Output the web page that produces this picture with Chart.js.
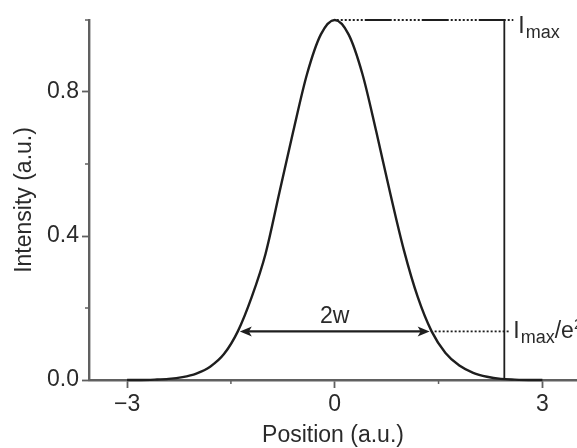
<!DOCTYPE html>
<html>
<head>
<meta charset="utf-8">
<script src="https://cdn.jsdelivr.net/npm/chart.js@4.4.0/dist/chart.umd.min.js"></script>
<style>
  html, body { margin: 0; padding: 0; background: #fff; }
  #wrap { width: 577px; height: 448px; }
</style>
</head>
<body>
<div id="wrap"><canvas id="beam" width="577" height="448"></canvas></div>
<script>
// gaussian beam profile
const positions = [-3.0, -2.8, -2.6, -2.4, -2.2, -2.0, -1.8, -1.6, -1.4, -1.2, -1.0, -0.8, -0.6, -0.4, -0.2,
  0, 0.2, 0.4, 0.6, 0.8, 1.0, 1.2, 1.4, 1.6, 1.8, 2.0, 2.2, 2.4, 2.6, 2.8, 3.0];
const intensity = [0, 0, 0.001, 0.003, 0.008, 0.018, 0.037, 0.072, 0.135, 0.23, 0.35, 0.52, 0.69, 0.85, 0.96,
  1.0, 0.96, 0.85, 0.69, 0.52, 0.36, 0.23, 0.135, 0.075, 0.04, 0.02, 0.009, 0.003, 0.001, 0, 0];

const xMajorTicks = [-3, 0, 3];
const xTickLabels = ['\u22123', '0', '3'];
const xMinorTicks = [-1.5, 1.5];
const yMajorTicks = [0, 0.4, 0.8];
const yTickLabels = ['0.0', '0.4', '0.8'];
const yMinorTicks = [0.2, 0.6, 1.0];

// annotation values
const peak = [0, 1.0];
const e2Level = 0.135;
const waistEdges = [-1.4, 1.4];
const markerX = 2.45;

const font = 'Liberation Sans, Arial, sans-serif';
const textColor = '#2a2a2a';
const axisColor = '#606060';
const inkColor = '#1e1e1e';

function arrowHead(ctx, tipX, tipY, dir) {
  // barbed arrow head, dir = -1 points left, +1 points right
  ctx.beginPath();
  ctx.moveTo(tipX, tipY);
  ctx.lineTo(tipX - dir * 12, tipY - 5);
  ctx.lineTo(tipX - dir * 9, tipY);
  ctx.lineTo(tipX - dir * 12, tipY + 5);
  ctx.closePath();
  ctx.fill();
}

const annotate = {
  id: 'annotate',
  afterDraw(chart) {
    const { ctx, scales: { x, y } } = chart;
    const px = v => x.getPixelForValue(v);
    const py = v => y.getPixelForValue(v);
    ctx.save();

    // minor ticks
    ctx.strokeStyle = axisColor;
    ctx.lineWidth = 1.5;
    ctx.beginPath();
    yMinorTicks.forEach(v => { ctx.moveTo(x.left - 4, py(v)); ctx.lineTo(x.left, py(v)); });
    xMinorTicks.forEach(v => { ctx.moveTo(px(v), y.bottom); ctx.lineTo(px(v), y.bottom + 4); });
    ctx.stroke();

    ctx.strokeStyle = inkColor;
    ctx.fillStyle = inkColor;

    // vertical marker
    ctx.lineWidth = 1.8;
    ctx.beginPath();
    ctx.moveTo(px(markerX), py(0));
    ctx.lineTo(px(markerX), py(peak[1]));
    ctx.stroke();

    // I_max level: dotted and solid runs
    ctx.lineWidth = 1.8;
    ctx.setLineDash([2, 2, 2, 2, 2, 2, 2, 2, 2, 2, 2, 2, 2, 2, 27, 2]);
    ctx.beginPath();
    ctx.moveTo(px(peak[0]) + 2, py(peak[1]));
    ctx.lineTo(px(markerX) + 9, py(peak[1]));
    ctx.stroke();

    // 1/e^2 level
    ctx.setLineDash([2, 2]);
    ctx.beginPath();
    ctx.moveTo(px(waistEdges[1]) + 3, py(e2Level));
    ctx.lineTo(px(markerX) + 6, py(e2Level));
    ctx.stroke();
    ctx.setLineDash([]);

    // 2w arrow
    const ay = py(e2Level);
    const x1 = px(waistEdges[0]) + 2, x2 = px(waistEdges[1]) - 2;
    ctx.lineWidth = 2.2;
    ctx.beginPath();
    ctx.moveTo(x1 + 8, ay);
    ctx.lineTo(x2 - 8, ay);
    ctx.stroke();
    arrowHead(ctx, x1, ay, -1);
    arrowHead(ctx, x2, ay, 1);

    // labels
    ctx.fillStyle = textColor;
    ctx.textBaseline = 'alphabetic';
    ctx.textAlign = 'center';
    ctx.font = '23px ' + font;
    ctx.fillText('2w', px(peak[0]), ay - 8);

    ctx.textAlign = 'left';
    let lx = px(markerX) + 14;
    let by = py(peak[1]) + 13;
    ctx.font = '23px ' + font;
    ctx.fillText('I', lx, by);
    lx += ctx.measureText('I').width + 1;
    ctx.font = '18px ' + font;
    ctx.fillText('max', lx, by + 5);

    lx = px(markerX) + 9;
    by = py(e2Level) + 7;
    ctx.font = '23px ' + font;
    ctx.fillText('I', lx, by);
    lx += ctx.measureText('I').width + 1;
    ctx.font = '18px ' + font;
    ctx.fillText('max', lx, by + 5);
    lx += ctx.measureText('max').width;
    ctx.font = '23px ' + font;
    ctx.fillText('/e', lx, by);
    lx += ctx.measureText('/e').width;
    ctx.font = '15px ' + font;
    ctx.fillText('2', lx, by - 9);

    ctx.restore();
  }
};

new Chart(document.getElementById('beam'), {
  type: 'line',
  data: {
    datasets: [{
      data: positions.map((p, i) => ({ x: p, y: intensity[i] })),
      borderColor: inkColor,
      borderWidth: 2.4,
      pointRadius: 0,
      cubicInterpolationMode: 'monotone',
      fill: false,
      clip: false
    }]
  },
  options: {
    responsive: false,
    animation: false,
    layout: { padding: { top: 20, right: 0, bottom: 0, left: 0 } },
    plugins: { legend: { display: false }, tooltip: { enabled: false } },
    scales: {
      x: {
        type: 'linear',
        min: -3.55,
        max: 3.5,
        afterBuildTicks: s => { s.ticks = xMajorTicks.map(v => ({ value: v })); },
        afterFit: s => { s.height = 68; },
        ticks: {
          autoSkip: false,
          maxRotation: 0,
          padding: 3,
          color: textColor,
          font: { family: font, size: 23 },
          callback: v => xTickLabels[xMajorTicks.indexOf(v)]
        },
        grid: { drawOnChartArea: false, tickLength: 8, tickColor: axisColor, tickWidth: 1.8 },
        border: { color: axisColor, width: 2.4 },
        title: {
          display: true,
          text: 'Position (a.u.)',
          color: textColor,
          font: { family: font, size: 23, lineHeight: 1.05 },
          padding: { top: 0, bottom: 0 }
        }
      },
      y: {
        min: 0,
        max: 1.0,
        afterBuildTicks: s => { s.ticks = yMajorTicks.map(v => ({ value: v })); },
        afterFit: s => { s.width = 89; },
        ticks: {
          padding: 3,
          color: textColor,
          font: { family: font, size: 23 },
          callback: v => yTickLabels[yMajorTicks.indexOf(v)]
        },
        grid: { drawOnChartArea: false, tickLength: 7, tickColor: axisColor, tickWidth: 1.8 },
        border: { color: axisColor, width: 2.4 },
        title: {
          display: true,
          text: 'Intensity (a.u.)',
          color: textColor,
          font: { family: font, size: 23, lineHeight: 1.2 },
          padding: { top: 11, bottom: 0 }
        }
      }
    }
  },
  plugins: [annotate]
});
</script>
</body>
</html>
